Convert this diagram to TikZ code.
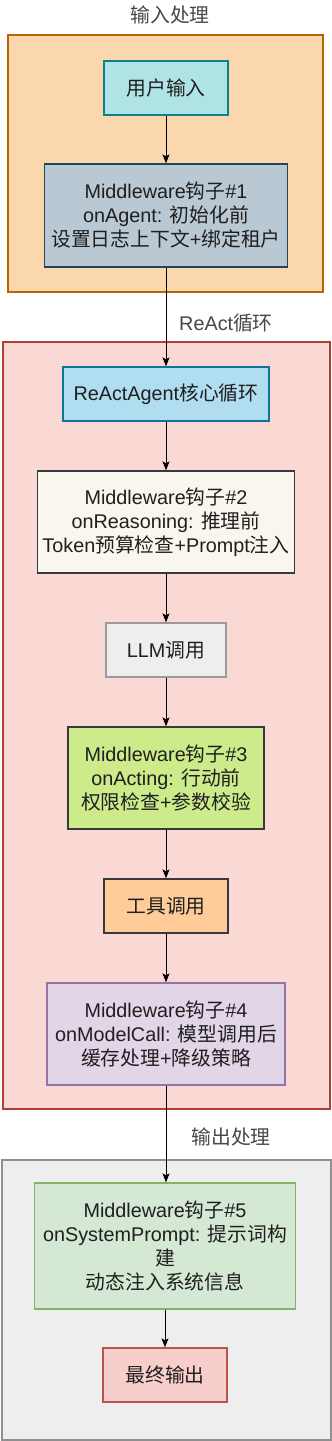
\documentclass[tikz,border=0pt]{standalone}
\usepackage{fontspec}
\setmainfont{Liberation Sans}
\newfontfamily\zhfont{Noto Sans CJK SC}
\usepackage{xcolor}
\usetikzlibrary{arrows.meta,positioning}
\definecolor{infill}{HTML}{FAD7AC}
\definecolor{indraw}{HTML}{B46504}
\definecolor{loopfill}{HTML}{FAD9D5}
\definecolor{loopdraw}{HTML}{AE4132}
\definecolor{outfill}{HTML}{EEEEEE}
\definecolor{outdraw}{HTML}{8F8F8F}
\definecolor{tealfill}{HTML}{B0E3E6}
\definecolor{tealdraw}{HTML}{0E8088}
\definecolor{slatefill}{HTML}{BAC8D3}
\definecolor{slatedraw}{HTML}{23445D}
\definecolor{skyfill}{HTML}{B1DDF0}
\definecolor{skydraw}{HTML}{10739E}
\definecolor{creamfill}{HTML}{F9F7ED}
\definecolor{darkdraw}{HTML}{36393D}
\definecolor{greyfill}{HTML}{EEEEEE}
\definecolor{greydraw}{HTML}{9A9A9A}
\definecolor{limefill}{HTML}{CDEB8B}
\definecolor{peachfill}{HTML}{FFCC99}
\definecolor{lilacfill}{HTML}{E1D5E7}
\definecolor{lilacdraw}{HTML}{9673A6}
\definecolor{mintfill}{HTML}{D5E8D4}
\definecolor{mintdraw}{HTML}{82B366}
\definecolor{rosefill}{HTML}{F8CECC}
\definecolor{rosedraw}{HTML}{B85450}
\newcommand{\zhtxt}[1]{{\zhfont #1}}

\begin{document}
\begin{tikzpicture}[
  x=1pt, y=-1pt,
  every node/.style={font=\fontsize{19.8}{24}\selectfont, text=black!88},
  group/.style={line width=1.2pt},
  box/.style={draw, line width=1.3pt, align=center, inner sep=0pt},
  small/.style={box, minimum width=124pt, minimum height=54pt},
  flow/.style={-{Stealth[length=9pt, width=7pt, inset=2pt]}, line width=0.9pt, black},
  gtitle/.style={text=black!72}
]
\fill[white] (0,0) rectangle (332,1441);
\useasboundingbox (0,0) rectangle (332,1441);

% Groups
\filldraw[group, fill=infill, draw=indraw] (8,35) rectangle (323,292);
\filldraw[group, fill=loopfill, draw=loopdraw] (3,342) rectangle (330,1109);
\filldraw[group, fill=outfill, draw=outdraw] (2,1160) rectangle (331,1440);

% Group titles
\node[gtitle] (ttlin) at (170,15) {\zhtxt{输入处理}};
\node[gtitle] (ttlloop) at (226,323) {ReAct\zhtxt{循环}};
\node[gtitle] (ttlout) at (231,1137) {\zhtxt{输出处理}};

% Input stage
\node[small, fill=tealfill, draw=tealdraw] (user) at (166,88) {\zhtxt{用户输入}};
\node[box, fill=slatefill, draw=slatedraw, minimum width=243pt, minimum height=103pt]
  (mw1) at (166,215.5) {Middleware\zhtxt{钩子}\#1\\onAgent: \zhtxt{初始化前}\\\zhtxt{设置日志上下文}+\zhtxt{绑定租户}};

% ReAct loop
\node[small, fill=skyfill, draw=skydraw, minimum width=206pt] (react) at (166,394) {ReActAgent\zhtxt{核心循环}};
\node[box, fill=creamfill, draw=darkdraw, minimum width=257pt, minimum height=102pt]
  (mw2) at (166,522) {Middleware\zhtxt{钩子}\#2\\onReasoning: \zhtxt{推理前}\\Token\zhtxt{预算检查}+Prompt\zhtxt{注入}};
\node[small, fill=greyfill, draw=greydraw, minimum width=120pt] (llm) at (166,650) {LLM\zhtxt{调用}};
\node[box, fill=limefill, draw=darkdraw, minimum width=196pt, minimum height=102pt]
  (mw3) at (166,778) {Middleware\zhtxt{钩子}\#3\\onActing: \zhtxt{行动前}\\\zhtxt{权限检查}+\zhtxt{参数校验}};
\node[small, fill=peachfill, draw=darkdraw] (tool) at (166,906) {\zhtxt{工具调用}};
\node[box, fill=lilacfill, draw=lilacdraw, minimum width=238pt, minimum height=102pt]
  (mw4) at (166,1034) {Middleware\zhtxt{钩子}\#4\\onModelCall: \zhtxt{模型调用后}\\\zhtxt{缓存处理}+\zhtxt{降级策略}};

% Output stage
\node[box, fill=mintfill, draw=mintdraw, minimum width=261pt, minimum height=126pt]
  (mw5) at (165,1246) {Middleware\zhtxt{钩子}\#5\\onSystemPrompt: \zhtxt{提示词构}\\\zhtxt{建}\\\zhtxt{动态注入系统信息}};
\node[small, fill=rosefill, draw=rosedraw] (final) at (165,1375) {\zhtxt{最终输出}};

% Flow
\draw[flow] (user) -- (mw1);
\draw[flow] (mw1) -- (react);
\draw[flow] (react) -- (mw2);
\draw[flow] (mw2) -- (llm);
\draw[flow] (llm) -- (mw3);
\draw[flow] (mw3) -- (tool);
\draw[flow] (tool) -- (mw4);
\draw[flow] (mw4.south) -- (mw4.south |- mw5.north);
\draw[flow] (mw5) -- (final);

\end{tikzpicture}
\end{document}
